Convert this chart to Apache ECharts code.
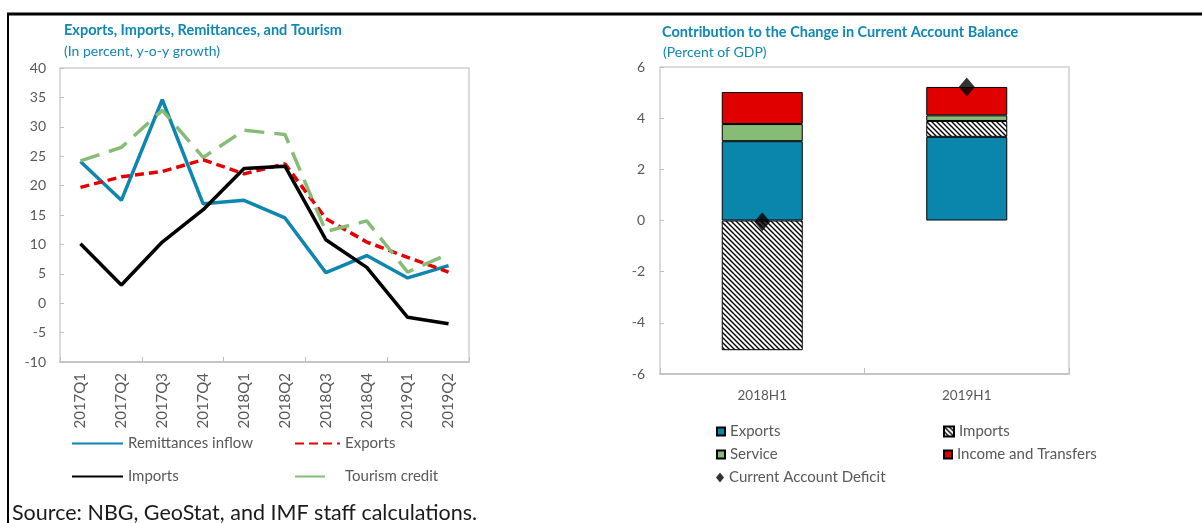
<!DOCTYPE html>
<html>
<head>
<meta charset="utf-8">
<script src="https://cdn.jsdelivr.net/npm/echarts@6/dist/echarts.min.js"></script>
<style>
html,body{margin:0;padding:0;background:#fff;}
#c{width:1202px;height:523px;}
</style>
</head>
<body>
<div id="c"></div>
<script>
// ---- Left chart data ----
const quarters = ['2017Q1','2017Q2','2017Q3','2017Q4','2018Q1','2018Q2','2018Q3','2018Q4','2019Q1','2019Q2'];
const remittances = [24.1, 17.5, 34.6, 16.9, 17.5, 14.5, 5.2, 8.1, 4.3, 6.4];
const exportsGrowth = [19.7, 21.5, 22.4, 24.4, 22.0, 23.7, 14.4, 10.4, 7.8, 5.3];
const importsGrowth = [10.1, 3.1, 10.4, 15.9, 22.9, 23.3, 10.8, 6.1, -2.4, -3.5];
const tourism = [24.2, 26.5, 32.8, 24.8, 29.4, 28.7, 12.2, 14.0, 5.3, 8.4];

// ---- Right chart data ----
const periods = ['2018H1','2019H1'];
const caExports = [3.1, 3.27];
const caImports = [-5.07, 0.62];
const caService = [0.67, 0.22];
const caIncome = [1.25, 1.11];
const caDeficit = [-0.05, 5.22];

const FONT = 'Lato';
const GRAY = '#595959';
const TEAL = '#1087B4';

// hatch pattern for imports
const pc = document.createElement('canvas');
pc.width = 5; pc.height = 5;
const px = pc.getContext('2d');
px.fillStyle = '#fff'; px.fillRect(0,0,5,5);
px.strokeStyle = '#000'; px.lineWidth = 1.4;
px.beginPath();
px.moveTo(-1,-1); px.lineTo(6,6);
px.moveTo(-1,4); px.lineTo(1,6);
px.moveTo(4,-1); px.lineTo(6,1);
px.stroke();
const hatch = {image: pc, repeat: 'repeat'};

const chart = echarts.init(document.getElementById('c'), null, {renderer:'canvas'});

const lineLegend = (name, left, top, w, ls) => Object.assign({
  data:[name], left:left, top:top, padding:0, itemWidth:w, itemHeight:14,
  itemStyle:{opacity:0},
  textStyle:{fontFamily:FONT, fontSize:15, color:GRAY}, selectedMode:false
}, ls ? {lineStyle: ls} : {});
const barLegend = (name, left, top, icon, w, h) => ({
  data:[{name:name, icon:icon}], left:left, top:top, padding:0, itemWidth:w, itemHeight:h,
  textStyle:{fontFamily:FONT, fontSize:15, color:GRAY}, selectedMode:false
});

const option = {
  animation:false,
  textStyle:{fontFamily:FONT},
  title:[
    {text:'Exports, Imports, Remittances, and Tourism', left:64, top:23, padding:0,
     textStyle:{fontFamily:FONT, fontSize:14.5, fontWeight:'bold', color:TEAL}},
    {text:'(In percent, y-o-y growth)', left:64, top:44, padding:0,
     textStyle:{fontFamily:FONT, fontSize:14, fontWeight:'normal', color:TEAL}},
    {text:'Contribution to the Change in Current Account Balance', left:662, top:25, padding:0,
     textStyle:{fontFamily:FONT, fontSize:14.5, fontWeight:'bold', color:TEAL}},
    {text:'(Percent of GDP)', left:663, top:45, padding:0,
     textStyle:{fontFamily:FONT, fontSize:14, fontWeight:'normal', color:TEAL}}
  ],
  legend:[
    lineLegend('Remittances inflow', 71, 436, 51),
    lineLegend('Imports', 71, 469, 51),
    lineLegend('Exports', 294, 436, 45, {type:[9,5]}),
    lineLegend('Tourism credit', 294, 469, 45, {type:[30,30]}),
    barLegend('Exports ', 716, 424, 'rect', 8, 8),
    barLegend('Service', 716, 447, 'rect', 8, 8),
    barLegend('Current Account Deficit', 716, 470, 'diamond', 8, 10),
    barLegend('Imports ', 943, 424, 'rect', 10, 10),
    barLegend('Income and Transfers', 943, 447, 'rect', 8, 8)
  ],
  grid:[
    {left:60, top:68, width:409, height:294, show:true, borderColor:'#cfcfcf', borderWidth:1.5, backgroundColor:'transparent'},
    {left:660, top:67, width:409, height:307, show:true, borderColor:'#cfcfcf', borderWidth:1.5, backgroundColor:'transparent'}
  ],
  xAxis:[
    {gridIndex:0, type:'category', data:quarters, position:'bottom',
     axisLine:{show:false}, axisTick:{show:false},
     axisLabel:{rotate:90, margin:11, fontFamily:FONT, fontSize:15, color:GRAY}},
    {gridIndex:0, type:'category', data:quarters, position:'bottom',
     axisLine:{show:true, onZero:true, lineStyle:{color:'#bfbfbf', width:1.5}},
     axisTick:{show:true, inside:true, length:5, lineStyle:{color:'#bfbfbf'}},
     axisLabel:{show:false}},
    {gridIndex:1, type:'category', data:periods, position:'bottom',
     axisLine:{show:false}, axisTick:{show:false},
     axisLabel:{margin:15, fontFamily:FONT, fontSize:13.5, color:GRAY}},
    {gridIndex:1, type:'category', data:periods, position:'bottom',
     axisLine:{show:true, onZero:true, lineStyle:{color:'#bfbfbf', width:1.5}},
     axisTick:{show:true, inside:true, length:6, lineStyle:{color:'#bfbfbf'}},
     axisLabel:{show:false}}
  ],
  yAxis:[
    {gridIndex:0, type:'value', min:-10, max:40, interval:5,
     axisLine:{show:false}, splitLine:{show:false},
     axisTick:{show:true, inside:true, length:4, lineStyle:{color:'#bfbfbf'}},
     axisLabel:{margin:14, fontFamily:FONT, fontSize:14, color:GRAY}},
    {gridIndex:1, type:'value', min:-6, max:6, interval:2,
     axisLine:{show:false}, splitLine:{show:false},
     axisTick:{show:true, inside:true, length:4, lineStyle:{color:'#bfbfbf'}},
     axisLabel:{margin:15, fontFamily:FONT, fontSize:14, color:GRAY}}
  ],
  series:[
    {name:'Remittances inflow', type:'line', xAxisIndex:0, yAxisIndex:0, data:remittances,
     symbol:'none', lineStyle:{color:'#0E86AF', width:3.5}, itemStyle:{color:'#0E86AF'}},
    {name:'Exports', type:'line', xAxisIndex:0, yAxisIndex:0, data:exportsGrowth,
     symbol:'none', lineStyle:{color:'#E60000', width:3.5, type:[9,5]}, itemStyle:{color:'#E60000'}},
    {name:'Imports', type:'line', xAxisIndex:0, yAxisIndex:0, data:importsGrowth,
     symbol:'none', lineStyle:{color:'#000', width:3.5}, itemStyle:{color:'#000'}},
    {name:'Tourism credit', type:'line', xAxisIndex:0, yAxisIndex:0, data:tourism,
     symbol:'none', lineStyle:{color:'#86BC76', width:3.5, type:[20,10]}, itemStyle:{color:'#86BC76'}},

    {name:'Exports ', type:'bar', xAxisIndex:2, yAxisIndex:1, stack:'ca', data:caExports, barWidth:81,
     itemStyle:{color:'#0A86AD', borderColor:'#000', borderWidth:1}},
    {name:'Imports ', type:'bar', xAxisIndex:2, yAxisIndex:1, stack:'ca', data:caImports, barWidth:81,
     itemStyle:{color:hatch, borderColor:'#000', borderWidth:1}},
    {name:'Service', type:'bar', xAxisIndex:2, yAxisIndex:1, stack:'ca', data:caService, barWidth:81,
     itemStyle:{color:'#86BC76', borderColor:'#000', borderWidth:1}},
    {name:'Income and Transfers', type:'bar', xAxisIndex:2, yAxisIndex:1, stack:'ca', data:caIncome, barWidth:81,
     itemStyle:{color:'#E00000', borderColor:'#000', borderWidth:1}},
    {name:'Current Account Deficit', type:'scatter', xAxisIndex:2, yAxisIndex:1, data:caDeficit,
     symbol:'diamond', symbolSize:[16,19], z:5, itemStyle:{color:'#000'}}
  ],
  graphic:[
    {type:'line', shape:{x1:7, y1:14, x2:1202, y2:14}, style:{stroke:'#000', lineWidth:3}, silent:true},
    {type:'line', shape:{x1:8, y1:13, x2:8, y2:523}, style:{stroke:'#000', lineWidth:2}, silent:true},
    {type:'text', left:12, top:502, silent:true,
     style:{text:'Source: NBG, GeoStat, and IMF staff calculations.', font:'21.5px Lato', fill:'#1a1a1a'}}
  ]
};
chart.setOption(option);
</script>
</body>
</html>
